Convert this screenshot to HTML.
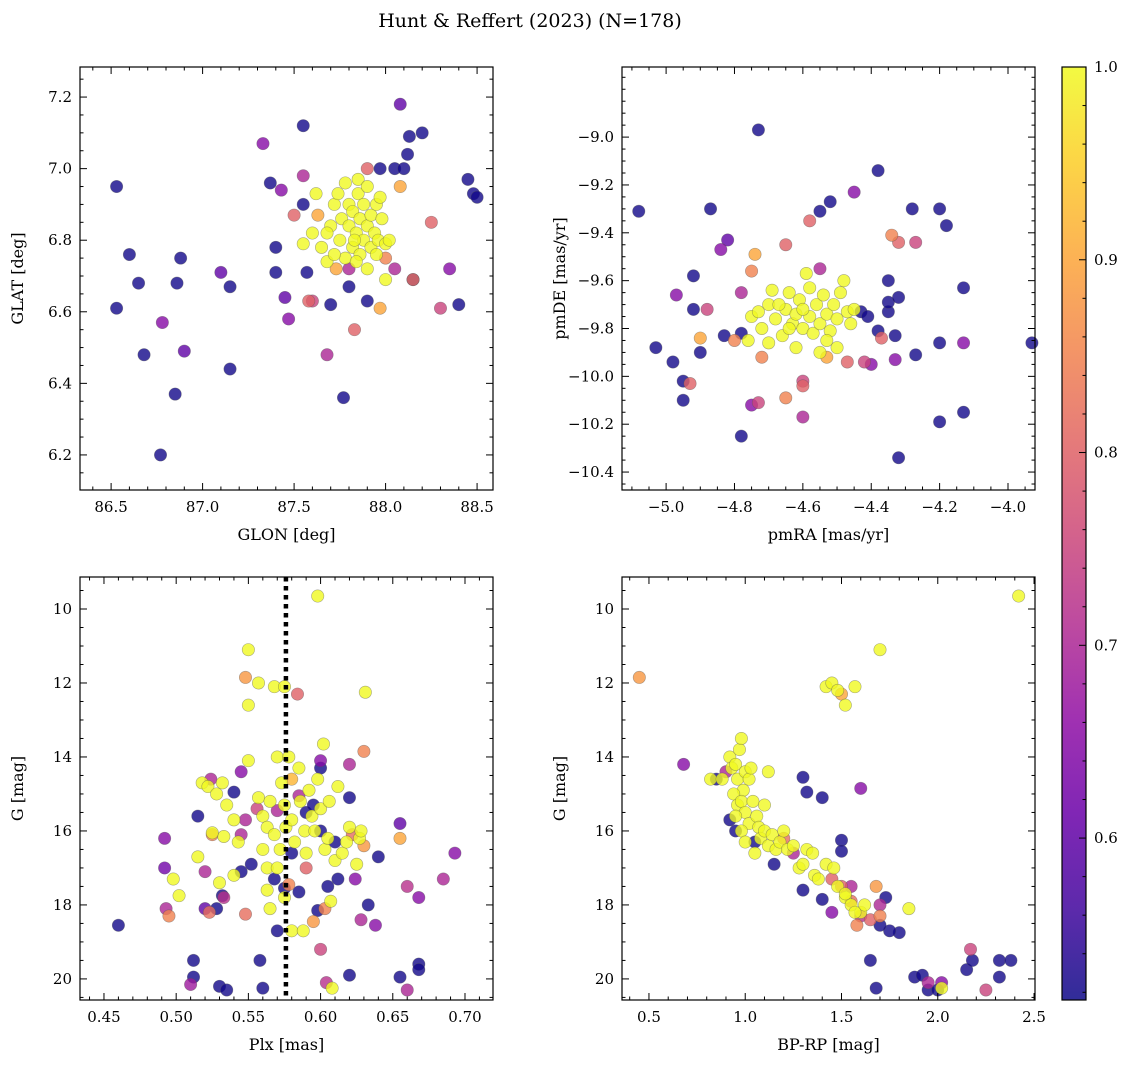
<!DOCTYPE html>
<html><head><meta charset="utf-8">
<style>
body{margin:0;background:#fff;}
svg{display:block;font-family:"DejaVu Serif","Liberation Serif",serif;}
</style></head>
<body>
<svg id="fig" width="1136" height="1067" viewBox="0 0 1136 1067" xmlns="http://www.w3.org/2000/svg">
<defs>
<linearGradient id="plasma" x1="0" y1="1" x2="0" y2="0">
<stop offset="0" stop-color="#0d0887"/><stop offset="0.1" stop-color="#41049d"/><stop offset="0.2" stop-color="#6a00a8"/><stop offset="0.3" stop-color="#8f0da4"/><stop offset="0.4" stop-color="#b12a90"/><stop offset="0.5" stop-color="#cc4778"/><stop offset="0.6" stop-color="#e16462"/><stop offset="0.7" stop-color="#f2844b"/><stop offset="0.8" stop-color="#fca636"/><stop offset="0.9" stop-color="#fcce25"/><stop offset="1" stop-color="#f0f921"/>
</linearGradient>
</defs>
<text x="530" y="27" font-size="19" text-anchor="middle">Hunt &amp; Reffert (2023) (N=178)</text>
</svg>
<script>
const D=0.52, Y=1.0;
const skyPoints=[[86.53,6.95,D],[86.53,6.61,D],[86.6,6.76,D],[86.65,6.68,D],[86.68,6.48,D],[86.78,6.57,0.65],[86.77,6.2,D],[86.85,6.37,D],[86.86,6.68,D],[86.88,6.75,D],[86.9,6.49,0.6],[87.1,6.71,0.6],[87.15,6.67,D],[87.15,6.44,D],[87.33,7.07,0.65],[87.37,6.96,D],[87.4,6.78,D],[87.4,6.71,D],[87.43,6.94,0.65],[87.45,6.64,0.6],[87.47,6.58,0.65],[87.55,7.12,D],[87.55,6.9,D],[87.57,6.71,D],[87.6,6.63,0.75],[87.68,6.48,0.7],[87.7,6.62,D],[87.77,6.36,D],[87.8,6.67,D],[87.9,6.63,D],[87.97,7.0,D],[88.05,7.0,D],[88.08,7.18,0.6],[88.1,7.0,D],[88.12,7.04,D],[88.13,7.09,D],[88.2,7.1,D],[88.15,6.69,D],[88.3,6.61,0.75],[88.35,6.72,0.65],[88.4,6.62,D],[88.45,6.97,D],[88.48,6.93,D],[88.5,6.92,D],[88.25,6.85,0.8],[88.08,6.95,0.9],[88.05,6.72,0.7],[87.97,6.61,0.9],[87.83,6.55,0.8],[87.5,6.87,0.8],[87.63,6.87,0.9],[87.73,6.72,0.9],[87.9,7.0,0.8],[88.0,6.75,0.85],[87.55,6.98,0.7],[87.58,6.63,0.8],[87.8,6.72,0.7],[88.15,6.69,0.82],
[87.62,6.93,Y],[87.7,6.84,Y],[87.65,6.78,Y],[87.68,6.82,Y],[87.72,6.9,Y],[87.75,6.8,Y],[87.76,6.86,Y],[87.78,6.75,Y],[87.78,6.96,Y],[87.8,6.84,Y],[87.8,6.9,Y],[87.82,6.78,Y],[87.82,6.88,Y],[87.84,6.82,Y],[87.85,6.93,Y],[87.86,6.76,Y],[87.86,6.86,Y],[87.88,6.8,Y],[87.88,6.9,Y],[87.9,6.84,Y],[87.9,6.72,Y],[87.92,6.87,Y],[87.92,6.78,Y],[87.94,6.82,Y],[87.95,6.9,Y],[87.96,6.8,Y],[87.98,6.86,Y],[88.0,6.79,Y],[87.55,6.79,Y],[87.6,6.82,Y],[87.68,6.74,Y],[87.72,6.76,Y],[88.0,6.69,Y],[88.02,6.8,Y],[87.83,6.8,Y],[87.85,6.97,Y],[87.97,6.92,Y],[87.74,6.93,Y],[87.84,6.74,Y],[87.9,6.95,Y],[87.95,6.76,Y]];
const pmPoints=[[-4.73,-8.97,D],[-4.38,-9.14,D],[-4.45,-9.23,0.65],[-4.52,-9.27,D],[-4.55,-9.31,D],[-4.87,-9.3,D],[-5.08,-9.31,D],[-4.28,-9.3,D],[-4.2,-9.3,D],[-4.18,-9.37,D],[-4.82,-9.43,0.6],[-4.65,-9.45,0.8],[-4.58,-9.35,0.8],[-4.34,-9.41,0.85],[-4.32,-9.44,0.8],[-4.27,-9.44,0.75],[-4.74,-9.49,0.9],[-4.84,-9.47,0.65],[-4.92,-9.58,D],[-4.97,-9.66,0.65],[-4.88,-9.72,0.75],[-4.92,-9.72,D],[-4.35,-9.6,D],[-4.43,-9.73,D],[-4.35,-9.73,D],[-4.35,-9.69,D],[-4.32,-9.67,D],[-4.13,-9.63,D],[-3.93,-9.86,D],[-4.2,-9.86,D],[-4.27,-9.91,D],[-4.13,-9.86,0.65],[-4.13,-10.15,D],[-4.2,-10.19,D],[-4.32,-10.34,D],[-4.33,-9.93,0.65],[-4.33,-9.83,D],[-4.38,-9.81,D],[-4.42,-9.94,0.75],[-4.4,-9.95,0.65],[-4.47,-9.94,0.8],[-4.6,-10.02,0.75],[-4.6,-10.04,0.8],[-4.65,-10.09,0.85],[-4.6,-10.17,0.7],[-4.73,-10.11,0.75],[-4.75,-10.12,0.65],[-4.78,-10.25,D],[-4.95,-10.1,D],[-4.93,-10.03,0.8],[-4.95,-10.02,D],[-4.98,-9.94,D],[-5.03,-9.88,D],[-4.9,-9.9,D],[-4.83,-9.83,D],[-4.78,-9.82,D],[-4.8,-9.85,0.85],[-4.9,-9.84,0.9],[-4.72,-9.92,0.85],[-4.75,-9.56,0.85],[-4.78,-9.65,0.7],[-4.41,-9.75,D],[-4.55,-9.55,0.7],[-4.37,-9.84,0.8],[-4.53,-9.92,0.9],
[-4.75,-9.75,Y],[-4.72,-9.8,Y],[-4.7,-9.7,Y],[-4.69,-9.64,Y],[-4.68,-9.76,Y],[-4.66,-9.83,Y],[-4.65,-9.72,Y],[-4.64,-9.65,Y],[-4.63,-9.78,Y],[-4.62,-9.74,Y],[-4.61,-9.68,Y],[-4.6,-9.8,Y],[-4.59,-9.57,Y],[-4.58,-9.75,Y],[-4.57,-9.82,Y],[-4.56,-9.7,Y],[-4.55,-9.78,Y],[-4.54,-9.66,Y],[-4.53,-9.74,Y],[-4.52,-9.81,Y],[-4.51,-9.7,Y],[-4.5,-9.76,Y],[-4.49,-9.65,Y],[-4.48,-9.6,Y],[-4.47,-9.73,Y],[-4.46,-9.78,Y],[-4.45,-9.72,Y],[-4.67,-9.7,Y],[-4.7,-9.86,Y],[-4.62,-9.88,Y],[-4.55,-9.9,Y],[-4.5,-9.88,Y],[-4.58,-9.63,Y],[-4.64,-9.8,Y],[-4.6,-9.72,Y],[-4.53,-9.85,Y],[-4.76,-9.85,Y],[-4.73,-9.73,Y]];
const plxPoints=[[0.46,18.55,D],[0.512,19.5,D],[0.512,19.95,D],[0.52,18.1,0.6],[0.53,20.2,D],[0.535,20.3,D],[0.56,20.25,D],[0.558,19.5,D],[0.568,17.3,D],[0.57,18.7,D],[0.575,17.55,D],[0.552,16.9,D],[0.515,15.6,D],[0.54,14.95,D],[0.528,18.1,D],[0.532,17.75,D],[0.545,17.1,D],[0.58,16.6,D],[0.59,15.5,D],[0.595,15.3,D],[0.6,14.3,D],[0.605,17.5,D],[0.6,16.0,D],[0.61,16.3,D],[0.612,17.3,D],[0.62,15.1,D],[0.62,19.9,D],[0.633,18.0,D],[0.64,16.7,D],[0.655,19.95,D],[0.668,19.6,D],[0.668,19.75,D],[0.598,18.15,D],[0.585,17.65,D],
[0.492,16.2,0.65],[0.492,17.0,0.62],[0.493,18.1,0.7],[0.51,20.15,0.68],[0.524,14.6,0.7],[0.545,14.4,0.65],[0.6,14.1,0.65],[0.62,14.2,0.7],[0.624,17.3,0.65],[0.628,18.4,0.7],[0.638,18.55,0.65],[0.655,15.8,0.6],[0.66,17.5,0.72],[0.668,17.8,0.65],[0.685,17.3,0.7],[0.693,16.6,0.65],[0.66,20.3,0.7],[0.6,19.2,0.75],[0.604,20.1,0.72],[0.585,15.05,0.7],[0.548,15.7,0.7],[0.556,15.4,0.75],[0.57,15.45,0.7],[0.52,17.1,0.7],[0.533,17.8,0.72],[0.545,16.1,0.7],
[0.548,11.85,0.88],[0.584,12.3,0.8],[0.63,13.85,0.85],[0.655,16.2,0.9],[0.495,18.3,0.85],[0.523,18.2,0.82],[0.548,18.25,0.82],[0.578,17.45,0.85],[0.595,18.45,0.88],[0.603,18.1,0.85],[0.59,17.0,0.8],[0.63,16.4,0.88],[0.622,16.1,0.82],[0.525,16.1,0.85],[0.58,14.6,0.92],
[0.598,9.65,Y],[0.55,11.1,Y],[0.557,12.0,Y],[0.568,12.1,Y],[0.575,12.1,Y],[0.55,12.6,Y],[0.631,12.25,Y],[0.602,13.65,Y],[0.55,14.1,Y],[0.57,14.0,Y],[0.578,14.0,Y],[0.518,14.7,Y],[0.522,14.8,Y],[0.528,15.0,Y],[0.532,14.7,Y],[0.535,15.3,Y],[0.54,15.7,Y],[0.533,16.15,Y],[0.525,16.05,Y],[0.543,16.3,Y],[0.515,16.7,Y],[0.498,17.3,Y],[0.502,17.75,Y],[0.53,17.4,Y],[0.557,15.1,Y],[0.56,15.6,Y],[0.563,15.9,Y],[0.565,15.2,Y],[0.568,16.1,Y],[0.572,16.5,Y],[0.573,14.7,Y],[0.575,15.3,Y],[0.576,15.9,Y],[0.58,15.7,Y],[0.582,16.3,Y],[0.585,14.3,Y],[0.586,15.2,Y],[0.589,16.0,Y],[0.59,16.6,Y],[0.592,14.9,Y],[0.594,15.6,Y],[0.596,16.0,Y],[0.598,14.6,Y],[0.6,15.4,Y],[0.603,16.5,Y],[0.605,16.2,Y],[0.606,15.2,Y],[0.61,16.8,Y],[0.612,14.8,Y],[0.615,16.6,Y],[0.618,16.3,Y],[0.62,15.9,Y],[0.625,16.9,Y],[0.627,16.2,Y],[0.628,16.0,Y],[0.56,16.5,Y],[0.563,17.0,Y],[0.57,17.0,Y],[0.563,17.6,Y],[0.565,18.1,Y],[0.58,18.7,Y],[0.588,18.7,Y],[0.608,20.25,Y],[0.54,17.2,Y],[0.575,17.8,Y],[0.607,17.9,Y]];
const cmdPoints=[[0.45,11.85,0.88],[0.68,14.2,0.65],[2.42,9.65,Y],[1.7,11.1,Y],[1.42,12.1,Y],[1.45,12.0,Y],[1.48,12.2,Y],[1.5,12.3,0.9],[1.52,12.6,Y],[1.57,12.1,Y],
[1.3,14.55,D],[1.32,14.95,D],[1.4,15.1,D],[1.6,14.85,0.65],[1.5,16.25,D],[1.5,16.55,D],[1.3,17.6,D],[1.4,17.85,D],[1.68,20.25,D],[1.65,19.5,D],[1.73,17.8,D],[1.8,18.75,D],[1.88,19.95,D],[1.92,19.9,D],[1.95,20.3,D],[2.0,20.3,D],[2.15,19.75,D],[2.18,19.5,D],[2.32,19.95,D],[2.32,19.5,D],[2.38,19.5,D],[1.75,18.7,D],[1.7,18.55,D],[1.15,16.9,D],[0.92,15.7,D],[0.85,14.6,D],[0.95,16.0,D],[1.05,16.3,D],
[2.17,19.2,0.75],[2.25,20.3,0.75],[2.02,20.1,0.65],[1.95,20.1,0.7],[1.7,18.0,0.7],[1.55,17.5,0.7],[1.6,18.3,0.72],[1.45,18.2,0.65],[1.25,16.6,0.7],[0.9,14.4,0.7],[1.65,18.4,0.8],[1.7,18.3,0.85],[1.68,17.5,0.88],[1.58,18.55,0.85],[1.5,17.5,0.8],[1.55,17.9,0.82],[1.45,17.3,0.8],[1.2,16.2,0.82],
[0.82,14.6,Y],[0.88,14.6,Y],[0.92,14.0,Y],[0.93,14.3,Y],[0.95,14.2,Y],[0.96,14.6,Y],[0.97,13.8,Y],[0.98,13.5,Y],[0.99,14.9,Y],[1.0,14.4,Y],[1.02,14.6,Y],[1.03,14.3,Y],[1.12,14.4,Y],[0.94,15.0,Y],[0.96,15.3,Y],[0.98,15.2,Y],[1.0,15.5,Y],[1.02,15.8,Y],[1.04,15.2,Y],[1.06,15.6,Y],[1.07,15.9,Y],[1.08,16.2,Y],[1.1,15.3,Y],[1.1,16.0,Y],[1.12,16.4,Y],[1.14,16.1,Y],[1.16,16.5,Y],[1.18,16.3,Y],[1.2,16.0,Y],[1.22,16.5,Y],[1.25,16.4,Y],[1.28,17.0,Y],[1.3,16.9,Y],[1.32,16.5,Y],[1.35,16.6,Y],[1.36,17.2,Y],[1.38,17.3,Y],[1.42,16.9,Y],[1.46,17.0,Y],[1.48,17.5,Y],[1.52,17.8,Y],[1.55,18.0,Y],[1.6,18.2,Y],[1.62,18.0,Y],[1.85,18.1,Y],[2.02,20.25,Y],[0.98,16.0,Y],[1.0,16.3,Y],[1.05,16.6,Y],[0.95,15.6,Y],[1.52,17.7,Y],[1.57,18.2,Y]];
const skyXTicks=[86.5,87.0,87.5,88.0,88.5];
const skyYTicks=[6.2,6.4,6.6,6.8,7.0,7.2];
const pmXTicks=[-5.0,-4.8,-4.6,-4.4,-4.2,-4.0];
const pmYTicks=[-9.0,-9.2,-9.4,-9.6,-9.8,-10.0,-10.2,-10.4];
const plxXTicks=[0.45,0.50,0.55,0.60,0.65,0.70];
const gTicks=[10,12,14,16,18,20];
const cmdXTicks=[0.5,1.0,1.5,2.0,2.5];
const cbarTicks=[0.6,0.7,0.8,0.9,1.0];
const plxRef=0.576;
const vmin=0.516, vmax=1.0;

const NS='http://www.w3.org/2000/svg';
const svg=document.getElementById('fig');
function mk(tag,attrs,parent){const e=document.createElementNS(NS,tag);for(const k in attrs)e.setAttribute(k,attrs[k]);(parent||svg).appendChild(e);return e;}
const stops=['#0d0887','#41049d','#6a00a8','#8f0da4','#b12a90','#cc4778','#e16462','#f2844b','#fca636','#fcce25','#f0f921'];
function hex(h){return [1,3,5].map(i=>parseInt(h.substr(i,2),16));}
function plasma(p){let t=Math.max(0,Math.min(1,(p-vmin)/(vmax-vmin)))*10;const i=Math.min(9,Math.floor(t));const f=t-i;const a=hex(stops[i]),b=hex(stops[i+1]);return 'rgb('+a.map((v,k)=>Math.round(v+(b[k]-v)*f)).join(',')+')';}
function fmt(v,d){return (v<0?'\u2212':'')+Math.abs(v).toFixed(d);}

function panel(name,box,xr,yr,xt,yt,xdec,ydec,xminor,yminor,xlabel,ylabel,pts){
  const [L,T,R,B]=box;
  const g=mk('g',{});
  
  
  const sx=v=>L+(v-xr[0])/(xr[1]-xr[0])*(R-L);
  const sy=v=>T+(v-yr[0])/(yr[1]-yr[0])*(B-T);
  const sorted=pts.slice().sort((a,b)=>a[2]-b[2]);
  const mg=mk('g',{},g);
  
  
  for(const p of sorted){
    const c=mk('circle',{cx:sx(p[0]),cy:sy(p[1]),r:6.2,fill:plasma(p[2]),'fill-opacity':0.8,stroke:'#555','stroke-opacity':0.5,'stroke-width':0.6},mg);
    
    
  }
  const lo=Math.min(xr[0],xr[1]),hi=Math.max(xr[0],xr[1]);
  for(let v=Math.ceil(lo/xminor-1e-6)*xminor;v<=hi+1e-9;v+=xminor){
    const x=sx(v);const major=xt.some(t=>Math.abs(t-v)<xminor/10);const len=major?7:3.5;
    mk('line',{x1:x,y1:B,x2:x,y2:B-len,stroke:'#000','stroke-width':1},g);
    mk('line',{x1:x,y1:T,x2:x,y2:T+len,stroke:'#000','stroke-width':1},g);
  }
  const ylo=Math.min(yr[0],yr[1]),yhi=Math.max(yr[0],yr[1]);
  for(let v=Math.ceil(ylo/yminor-1e-6)*yminor;v<=yhi+1e-9;v+=yminor){
    const y=sy(v);const major=yt.some(t=>Math.abs(t-v)<yminor/10);const len=major?7:3.5;
    mk('line',{x1:L,y1:y,x2:L+len,y2:y,stroke:'#000','stroke-width':1},g);
    mk('line',{x1:R,y1:y,x2:R-len,y2:y,stroke:'#000','stroke-width':1},g);
  }
  for(const t of xt){const e=mk('text',{x:sx(t),y:B+22,'font-size':15,'text-anchor':'middle'},g);e.textContent=fmt(t,xdec);}
  for(const t of yt){const e=mk('text',{x:L-8,y:sy(t)+5,'font-size':15,'text-anchor':'end'},g);e.textContent=fmt(t,ydec);}
  mk('rect',{x:L,y:T,width:R-L,height:B-T,fill:'none',stroke:'#000','stroke-width':1.2},g);
  const xl=mk('text',{x:(L+R)/2,y:B+50,'font-size':16,'text-anchor':'middle'},g);xl.textContent=xlabel;
  
  const yl=mk('text',{x:0,y:0,'font-size':16,'text-anchor':'middle',transform:`translate(${name==='sky-panel'||name==='plx-panel'?23:565},${(T+B)/2}) rotate(-90)`},g);yl.textContent=ylabel;
  
  return {sx,sy,g};
}
panel('sky-panel',[80,67,493,490],[86.33,88.587],[7.284,6.102],skyXTicks,skyYTicks,1,1,0.1,0.05,'GLON [deg]','GLAT [deg]',skyPoints);
panel('pm-panel',[622,67,1035,490],[-5.129,-3.921],[-8.707,-10.475],pmXTicks,pmYTicks,1,1,0.05,0.05,'pmRA [mas/yr]','pmDE [mas/yr]',pmPoints);
const p3=panel('plx-panel',[80,577,493,1000],[0.4334,0.7194],[9.135,20.57],plxXTicks,gTicks,2,0,0.01,0.5,'Plx [mas]','G [mag]',plxPoints);
const ref=mk('line',{x1:p3.sx(plxRef),y1:577,x2:p3.sx(plxRef),y2:1000,stroke:'#000','stroke-width':4.5,'stroke-dasharray':'4.5,4.5'});


panel('cmd-panel',[622,577,1035,1000],[0.36,2.505],[9.135,20.57],cmdXTicks,gTicks,1,0,0.1,0.5,'BP-RP [mag]','G [mag]',cmdPoints);

// colorbar
const cb=mk('g',{});


const cT=67,cB=1000,cL=1062,cR=1086;
mk('rect',{x:cL,y:cT,width:cR-cL,height:cB-cT,fill:'url(#plasma)','fill-opacity':0.85},cb);
mk('rect',{x:cL,y:cT,width:cR-cL,height:cB-cT,fill:'none',stroke:'#000','stroke-width':1.2},cb);
const cy=v=>cB-(v-vmin)/(vmax-vmin)*(cB-cT);
for(let v=0.52;v<=1.0001;v+=0.02){const y=cy(v);const major=cbarTicks.some(t=>Math.abs(t-v)<0.005);mk('line',{x1:cR,y1:y,x2:cR-(major?7:3.5),y2:y,stroke:'#000','stroke-width':1},cb);}
for(const t of cbarTicks){const e=mk('text',{x:cR+8,y:cy(t)+5,'font-size':15},cb);e.textContent=t.toFixed(1);}
</script>
</body></html>
